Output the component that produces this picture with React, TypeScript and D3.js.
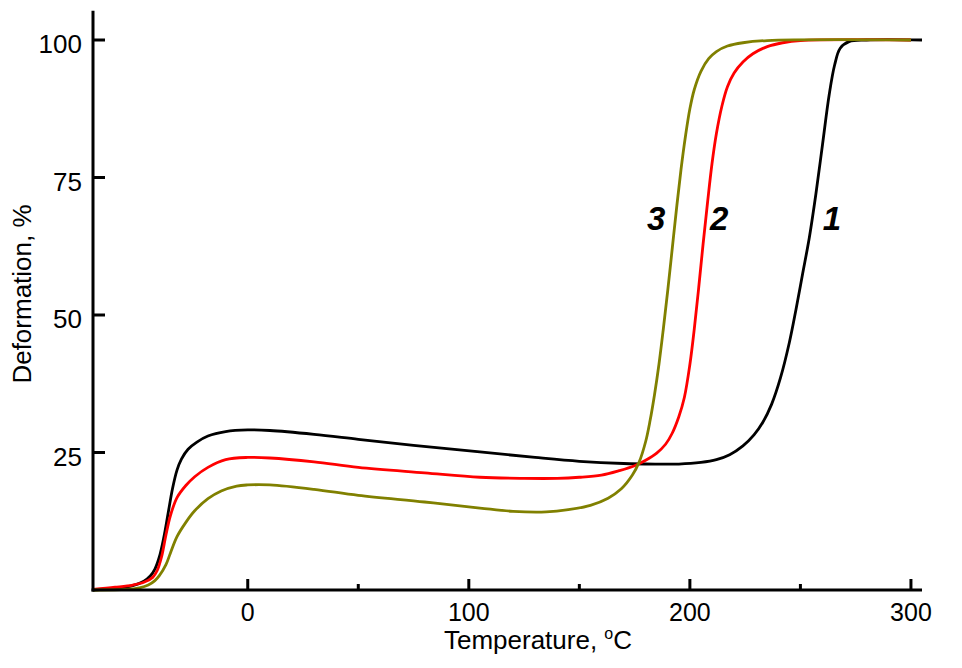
import React from "react";
import * as d3 from "d3";

const W = 962;
const H = 668;

// Curve 1 (black)
const temp1 = [-70,-60,-52,-47,-44,-42,-40,-38,-36,-34,-32,-30,-27,-23,-18,-10,0,10,30,50,75,105,130,150,170,185,195,205,212,218,224,229,233,237,241,245,248,251,254,257,260,263,265.5,268,272,280,305];
const def1 = [0,0.3,0.8,1.6,2.6,3.8,6,9.5,14,18.5,21.8,23.8,25.6,26.9,28,28.8,29.1,29.0,28.3,27.4,26.3,25.1,24.1,23.4,23.0,22.9,22.9,23.2,23.7,24.6,26.2,28.2,30.5,33.8,38.6,45,51,57.5,64,72,81,90,95.5,98.5,99.7,100,100];

// Curve 2 (red)
const temp2 = [-70,-60,-52,-47,-43,-41,-39,-37,-35,-32,-28,-24,-18,-10,0,10,30,50,80,105,125,140,150,160,168,175,180,185,189,192,195,197.5,200,202,204,206,208,210,212,214.5,217,220,224,228.5,235,242,250,300];
const def2 = [0.1,0.5,0.9,1.4,2.3,3.5,6,10,13.5,16.8,19,20.6,22.3,23.7,24.1,24.0,23.3,22.3,21.3,20.5,20.3,20.3,20.5,20.9,21.7,22.6,23.6,24.9,26.5,28.5,31.5,35,41,47.5,55,63,70.5,77.5,83,88,91.5,94,96,97.5,98.8,99.5,99.9,100];

// Curve 3 (olive)
const temp3 = [-70,-55,-49,-45,-42,-40,-37,-35,-32,-28,-24,-18,-12,-5,0,10,30,50,80,105,120,135,145,155,163,169,174,177,180,182,184,186,188,190,192,194,196,198,200,202,205,208.5,212,217,224,235,300];
const def3 = [0,0.1,0.4,0.9,1.7,2.6,4.6,6.7,9.7,12.3,14.4,16.6,18,18.9,19.1,19.1,18.3,17.2,16,14.9,14.3,14.2,14.6,15.4,16.7,18.4,20.9,23.2,27,30.8,35.5,41,47.5,54.5,62,69.5,76.5,82.5,87.5,91,94.3,96.6,97.9,98.9,99.5,99.9,100];

const xMajorTicks = [0, 100, 200, 300];
const xMinorTicks = [50, 150, 250];
const yTicks = [25, 50, 75, 100];

const curveLabels = ["1", "2", "3"];
const curveLabelT = [264.3, 213.2, 184.7];
const curveLabelV = [65.5, 65.5, 65.5];

const colors = ["#000000", "#ff0000", "#808000"];

export default function App() {
  const x = d3.scaleLinear().domain([-70, 305]).range([93, 922]);
  const y = d3.scaleLinear().domain([0, 100]).range([590, 40]);
  const yTop = 105.3;

  const line = d3
    .line<[number, number]>()
    .x((d) => x(d[0]))
    .y((d) => y(d[1]))
    .curve(d3.curveCatmullRom.alpha(0.5));

  const series = [
    d3.zip(temp1, def1) as [number, number][],
    d3.zip(temp2, def2) as [number, number][],
    d3.zip(temp3, def3) as [number, number][],
  ];

  const font = "'Liberation Sans', Arial, sans-serif";
  const y0 = y(0);

  return (
    <svg
      width={W}
      height={H}
      style={{ position: "absolute", left: 0, top: 0, background: "#fff" }}
      fontFamily={font}
    >
      <rect x={0} y={0} width={W} height={H} fill="#fff" />
      {series.map((s, i) => (
        <path
          key={i}
          d={line(s) || ""}
          fill="none"
          stroke={colors[i]}
          strokeWidth={2.8}
          strokeLinejoin="round"
        />
      ))}
      {/* axes */}
      <line x1={x(-70)} x2={x(-70)} y1={y(yTop)} y2={y0 + 1.5} stroke="#000" strokeWidth={3} />
      <line x1={x(-70) - 1.5} x2={x(305)} y1={y0} y2={y0} stroke="#000" strokeWidth={3} />
      {xMajorTicks.map((t) => (
        <g key={"xm" + t}>
          <line x1={x(t)} x2={x(t)} y1={y0} y2={y0 - 11} stroke="#000" strokeWidth={3} />
          <text x={x(t)} y={y0 + 31} textAnchor="middle" fontSize={25} fill="#000">
            {t}
          </text>
        </g>
      ))}
      {xMinorTicks.map((t) => (
        <line key={"xn" + t} x1={x(t)} x2={x(t)} y1={y0} y2={y0 - 6} stroke="#000" strokeWidth={3} />
      ))}
      {yTicks.map((t) => (
        <g key={"y" + t}>
          <line x1={x(-70)} x2={x(-70) + 12} y1={y(t)} y2={y(t)} stroke="#000" strokeWidth={3} />
          <text x={82} y={y(t) + 13} textAnchor="end" fontSize={26} fill="#000">
            {t}
          </text>
        </g>
      ))}
      {/* axis titles */}
      <text x={538} y={649} textAnchor="middle" fontSize={26} fill="#000">
        Temperature,{" "}
        <tspan fontSize={16} dy={-10}>o</tspan>
        <tspan dy={10}>C</tspan>
      </text>
      <text
        transform="translate(31,294) rotate(-90)"
        textAnchor="middle"
        fontSize={26}
        fill="#000"
      >
        Deformation, %
      </text>
      {curveLabels.map((l, i) => (
        <text
          key={"l" + l}
          x={x(curveLabelT[i])}
          y={y(curveLabelV[i])}
          textAnchor="middle"
          fontSize={33}
          fontWeight="bold"
          fontStyle="italic"
          fill="#000"
        >
          {l}
        </text>
      ))}
    </svg>
  );
}
